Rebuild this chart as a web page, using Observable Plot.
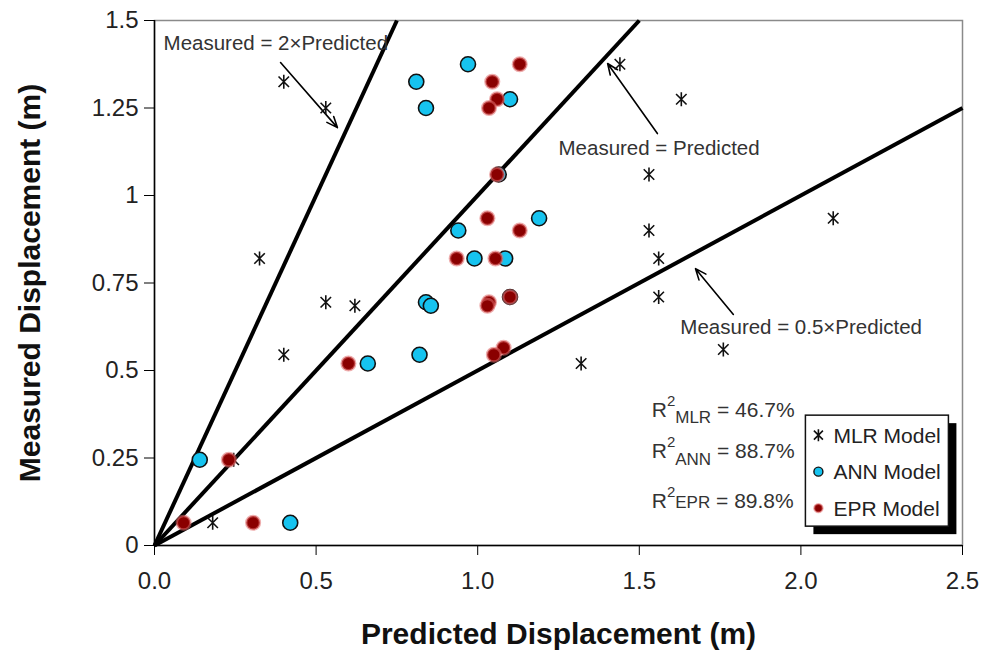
<!DOCTYPE html>
<html><head><meta charset="utf-8">
<script src="https://cdn.jsdelivr.net/npm/d3@7"></script>
<script src="https://cdn.jsdelivr.net/npm/@observablehq/plot@0.6"></script>
<style>
body{margin:0;background:#fff;}
#chart{width:984px;height:660px;}
</style></head><body><div id="chart"></div>
<script>
// ---- data ----
const mlrPredicted = [1.44, 0.40, 1.63, 0.53, 1.53, 2.10, 1.53, 1.56, 0.325, 1.56, 0.53, 0.62, 1.76, 0.40, 1.32, 0.245, 0.18];
const mlrMeasured  = [1.375, 1.325, 1.275, 1.25, 1.06, 0.935, 0.90, 0.82, 0.82, 0.71, 0.695, 0.685, 0.56, 0.545, 0.52, 0.245, 0.065];

const annPredicted = [0.97, 0.81, 1.10, 0.84, 1.065, 1.19, 0.94, 0.99, 1.085, 1.10, 0.84, 0.855, 0.82, 0.66, 0.14, 0.42];
const annMeasured  = [1.375, 1.325, 1.275, 1.25, 1.06, 0.935, 0.90, 0.82, 0.82, 0.71, 0.695, 0.685, 0.545, 0.52, 0.245, 0.065];

const eprPredicted = [1.13, 1.045, 1.06, 1.035, 1.06, 1.03, 1.13, 0.935, 1.055, 1.10, 1.035, 1.03, 1.08, 1.05, 0.60, 0.23, 0.09, 0.305];
const eprMeasured  = [1.375, 1.325, 1.275, 1.25, 1.06, 0.935, 0.90, 0.82, 0.82, 0.71, 0.695, 0.685, 0.565, 0.545, 0.52, 0.245, 0.065, 0.065];

const xTicks = [0, 0.5, 1.0, 1.5, 2.0, 2.5];
const yTicks = [0, 0.25, 0.5, 0.75, 1, 1.25, 1.5];
const ratios = [2, 1, 0.5];

const lineLabels = ["Measured = 2×Predicted", "Measured = Predicted", "Measured = 0.5×Predicted"];
const lineLabelX = [0.028, 1.25, 1.627];
const lineLabelY = [1.434, 1.134, 0.623];
const arrowX1 = [0.390, 1.556, 1.791];
const arrowY1 = [1.380, 1.177, 0.660];
const arrowX2 = [0.566, 1.402, 1.674];
const arrowY2 = [1.194, 1.377, 0.791];

const r2Models = ["MLR", "ANN", "EPR"];
const r2Values = ["46.7%", "88.7%", "89.8%"];
const r2X = 1.54;
const r2Y = [0.366, 0.249, 0.106];
const legendLabels = ["MLR Model", "ANN Model", "EPR Model"];

const xDomain = [0, 2.5], yDomain = [0, 1.5];
const annColor = "#16c3ef", eprColor = "#8a0000";

// ---- tables ----
const mlr = mlrPredicted.map((p, i) => ({p, m: mlrMeasured[i]}));
const ann = annPredicted.map((p, i) => ({p, m: annMeasured[i]}));
const epr = eprPredicted.map((p, i) => ({p, m: eprMeasured[i]}));
const refLines = ratios.map(r => ({x1: 0, y1: 0, x2: Math.min(xDomain[1], yDomain[1] / r), y2: Math.min(yDomain[1], xDomain[1] * r)}));
const labels = lineLabels.map((t, i) => ({t, x: lineLabelX[i], y: lineLabelY[i]}));
const arrows = arrowX1.map((x1, i) => ({x1, y1: arrowY1[i], x2: arrowX2[i], y2: arrowY2[i]}));

const star = {
  draw(context, size) {
    const r = Math.sqrt(size / Math.PI);
    const d = r * 0.75;
    context.moveTo(-d, -d); context.lineTo(d, d);
    context.moveTo(-d, d); context.lineTo(d, -d);
    context.moveTo(0, -r); context.lineTo(0, r);
  }
};

const font = "'Liberation Sans', Arial, Helvetica, sans-serif";

const plot = Plot.plot({
  width: 984,
  height: 660,
  marginLeft: 154,
  marginRight: 22,
  marginTop: 20,
  marginBottom: 115,
  style: {fontFamily: font, background: "white", color: "#222", overflow: "visible"},
  x: {domain: xDomain},
  y: {domain: yDomain},
  marks: [
    Plot.frame({stroke: "#8a8a8a", strokeWidth: 1.5}),
    Plot.ruleX([0], {stroke: "black", strokeWidth: 1.5}),
    Plot.ruleY([0], {stroke: "black", strokeWidth: 1.5}),
    Plot.axisX({ticks: xTicks, tickFormat: d3.format(".1f"), tickSize: 10, tickPadding: 16, fontSize: 24, label: null, stroke: "black", fill: "#222"}),
    Plot.axisY({ticks: yTicks, tickFormat: d => String(d), tickSize: 10, tickPadding: 6, fontSize: 24, label: null, stroke: "black", fill: "#222"}),
    Plot.text(["Predicted Displacement (m)"], {frameAnchor: "bottom", dy: 98, fontSize: 30, fontWeight: "bold", fill: "#111"}),
    Plot.text(["Measured Displacement (m)"], {frameAnchor: "left", textAnchor: "middle", dx: -124, rotate: -90, fontSize: 30, fontWeight: "bold", fill: "#111"}),
    Plot.link(refLines, {x1: "x1", y1: "y1", x2: "x2", y2: "y2", stroke: "black", strokeWidth: 4}),
    Plot.arrow(arrows, {x1: "x1", y1: "y1", x2: "x2", y2: "y2", stroke: "black", strokeWidth: 1.6, headLength: 11, headAngle: 45}),
    Plot.text(labels, {x: "x", y: "y", text: "t", textAnchor: "start", fontSize: 20.5, fill: "#333"}),
    Plot.dot(mlr, {x: "p", y: "m", symbol: star, r: 7, stroke: "#111", fill: "none", strokeWidth: 1.6}),
    Plot.dot(ann, {x: "p", y: "m", r: 7.5, fill: annColor, stroke: "#111", strokeWidth: 1.6}),
    Plot.dot(epr, {x: "p", y: "m", r: 6.8, fill: eprColor, stroke: "#e06a6a", strokeOpacity: 0.55, strokeWidth: 2.5})
  ]
});

document.getElementById("chart").appendChild(plot);

// ---- R² annotations and boxed legend ----
const sx = plot.scale("x"), sy = plot.scale("y");
const svg = d3.select(plot);
const ann2 = svg.append("g").attr("font-family", font).attr("fill", "#333").attr("text-anchor", "start");
r2Models.forEach((m, i) => {
  const t = ann2.append("text").attr("x", sx.apply(r2X)).attr("y", sy.apply(r2Y[i])).attr("font-size", 21).attr("text-anchor", "start");
  t.append("tspan").text("R");
  t.append("tspan").attr("dy", -11).attr("font-size", 15).text("2");
  const sub = i === 2 ? 11 : (i === 0 ? 17 : 18);
  t.append("tspan").attr("dy", sub).attr("font-size", 17).text(m);
  t.append("tspan").attr("dy", 11 - sub).text(" = " + r2Values[i]);
});

const lx = sx.apply(2.0155), ly = sy.apply(0.371);
const lw = 143, lh = 111;
const lg = svg.append("g").attr("font-family", font).attr("text-anchor", "start");
lg.append("rect").attr("x", lx + 8).attr("y", ly + 8).attr("width", lw).attr("height", lh).attr("fill", "black");
lg.append("rect").attr("x", lx).attr("y", ly).attr("width", lw).attr("height", lh).attr("fill", "white").attr("stroke", "#111").attr("stroke-width", 1.5);
legendLabels.forEach((label, i) => {
  const cy = ly + 20 + i * 36.5;
  const cx = lx + 13;
  if (i === 0) {
    const r = 6, d = 4.5;
    lg.append("path").attr("d", `M${cx-d},${cy-d}L${cx+d},${cy+d}M${cx-d},${cy+d}L${cx+d},${cy-d}M${cx},${cy-r}L${cx},${cy+r}`)
      .attr("stroke", "#111").attr("stroke-width", 1.6).attr("fill", "none");
  } else if (i === 1) {
    lg.append("circle").attr("cx", cx).attr("cy", cy).attr("r", 4.5).attr("fill", annColor).attr("stroke", "#111").attr("stroke-width", 1.4);
  } else {
    lg.append("circle").attr("cx", cx).attr("cy", cy).attr("r", 4.2).attr("fill", eprColor).attr("stroke", "#e06a6a").attr("stroke-opacity", 0.55).attr("stroke-width", 2);
  }
  lg.append("text").attr("x", lx + 28).attr("y", cy).attr("dy", "0.35em").attr("font-size", 21).attr("fill", "#222").attr("text-anchor", "start").text(label);
});
</script>
</body></html>
